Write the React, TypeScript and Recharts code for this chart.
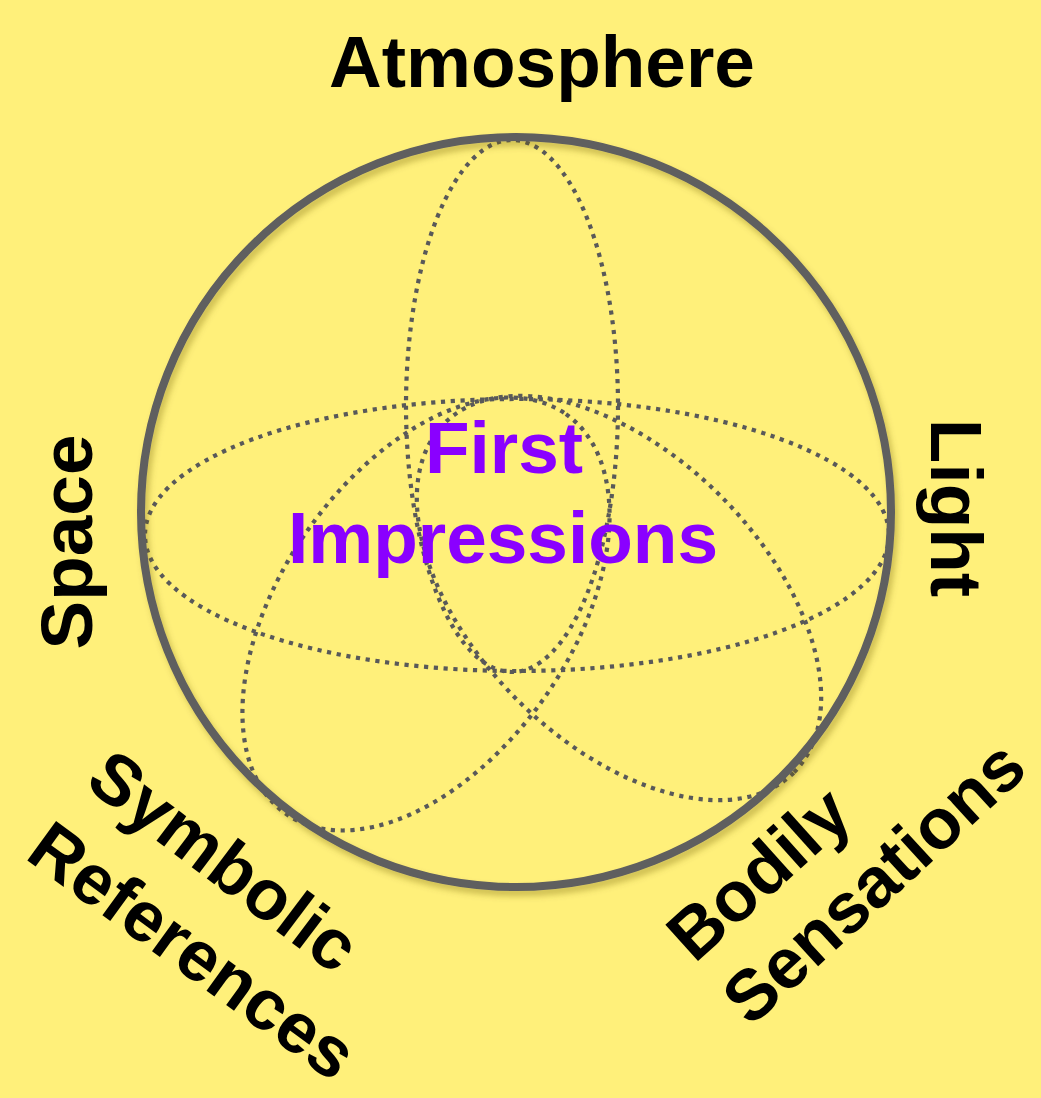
import { ScatterChart, Scatter, XAxis, YAxis } from "recharts";

const W = 1041;
const H = 1098;

// dotted ellipses (diagram units = px of the original picture)
const ellipseNames = ["Atmosphere", "Space / Light", "Symbolic References", "Bodily Sensations"];
const ellipseX = [512, 517, 426, 619];
const ellipseY = [406, 535, 614, 598];
const ellipseRx = [106, 372, 244, 247];
const ellipseRy = [266, 136, 145, 144];
const ellipseTilt = [0, 0, -55, 45];

// outer ring
const ringX = [516];
const ringY = [512];
const ringR = [375];

// labels
const labelText = ["Atmosphere", "Space", "Light", "Symbolic", "References", "Bodily", "Sensations", "First", "Impressions"];
const labelX = [542, 66, 956, 98, 38, 678, 734, 504, 503];
const labelY = [61, 542, 508, 766, 838, 946, 1010, 447, 537];
const labelAngle = [0, -90, 90, 37, 36, -42, -42.5, 0, 0];

const ellipseData = ellipseNames.map((name, i) => ({
  name, x: ellipseX[i], y: ellipseY[i], rx: ellipseRx[i], ry: ellipseRy[i], tilt: ellipseTilt[i],
}));
const ringData = ringX.map((x, i) => ({ x, y: ringY[i], r: ringR[i] }));
const labelData = labelText.map((text, i) => ({
  text, x: labelX[i], y: labelY[i], angle: labelAngle[i],
  center: ["Atmosphere", "Space", "Light", "First", "Impressions"].includes(text),
  main: text === "First" || text === "Impressions",
}));

// px per diagram unit (axes span the full chart)
const K = W / 1041;
const FONT = '"Liberation Sans", Arial, Helvetica, sans-serif';

function EllipseShape(props: any) {
  const { cx, cy, payload } = props;
  return (
    <ellipse
      cx={cx} cy={cy} rx={payload.rx * K} ry={payload.ry * K}
      transform={`rotate(${payload.tilt} ${cx} ${cy})`}
      fill="none" stroke="#595959" strokeWidth={4.2} strokeDasharray="4.2 5.6"
    />
  );
}

function RingShape(props: any) {
  const { cx, cy, payload } = props;
  return (
    <g>
      <defs>
        <filter id="ringShadow" x="-10%" y="-10%" width="120%" height="120%">
          <feDropShadow dx="3" dy="5" stdDeviation="3" floodColor="#6b5a00" floodOpacity="0.35" />
        </filter>
      </defs>
      <circle cx={cx} cy={cy} r={payload.r * K} fill="none" stroke="#5e5e5e" strokeWidth={8} filter="url(#ringShadow)" />
    </g>
  );
}

function LabelShape(props: any) {
  const { cx, cy, payload } = props;
  const tilted = payload.angle % 90 !== 0;
  return (
    <text
      x={cx} y={cy}
      transform={`rotate(${payload.angle} ${cx} ${cy})`}
      textAnchor={payload.center ? "middle" : "start"}
      dominantBaseline="central"
      fontFamily={FONT} fontWeight="bold" fontSize={tilted ? 71 : 73}
      fill={payload.main ? "#8a00ff" : "#000000"}
    >
      {payload.text}
    </text>
  );
}

export default function App() {
  return (
    <div style={{ position: "absolute", left: 0, top: 0, width: W, height: H, background: "#fff07a" }}>
      <ScatterChart width={W} height={H} margin={{ top: 0, right: 0, bottom: 0, left: 0 }}>
        <XAxis type="number" dataKey="x" domain={[0, 1041]} hide />
        <YAxis type="number" dataKey="y" domain={[0, 1098]} reversed hide />
        <Scatter data={ellipseData} shape={EllipseShape} isAnimationActive={false} />
        <Scatter data={ringData} shape={RingShape} isAnimationActive={false} />
        <Scatter data={labelData} shape={LabelShape} isAnimationActive={false} />
      </ScatterChart>
    </div>
  );
}
